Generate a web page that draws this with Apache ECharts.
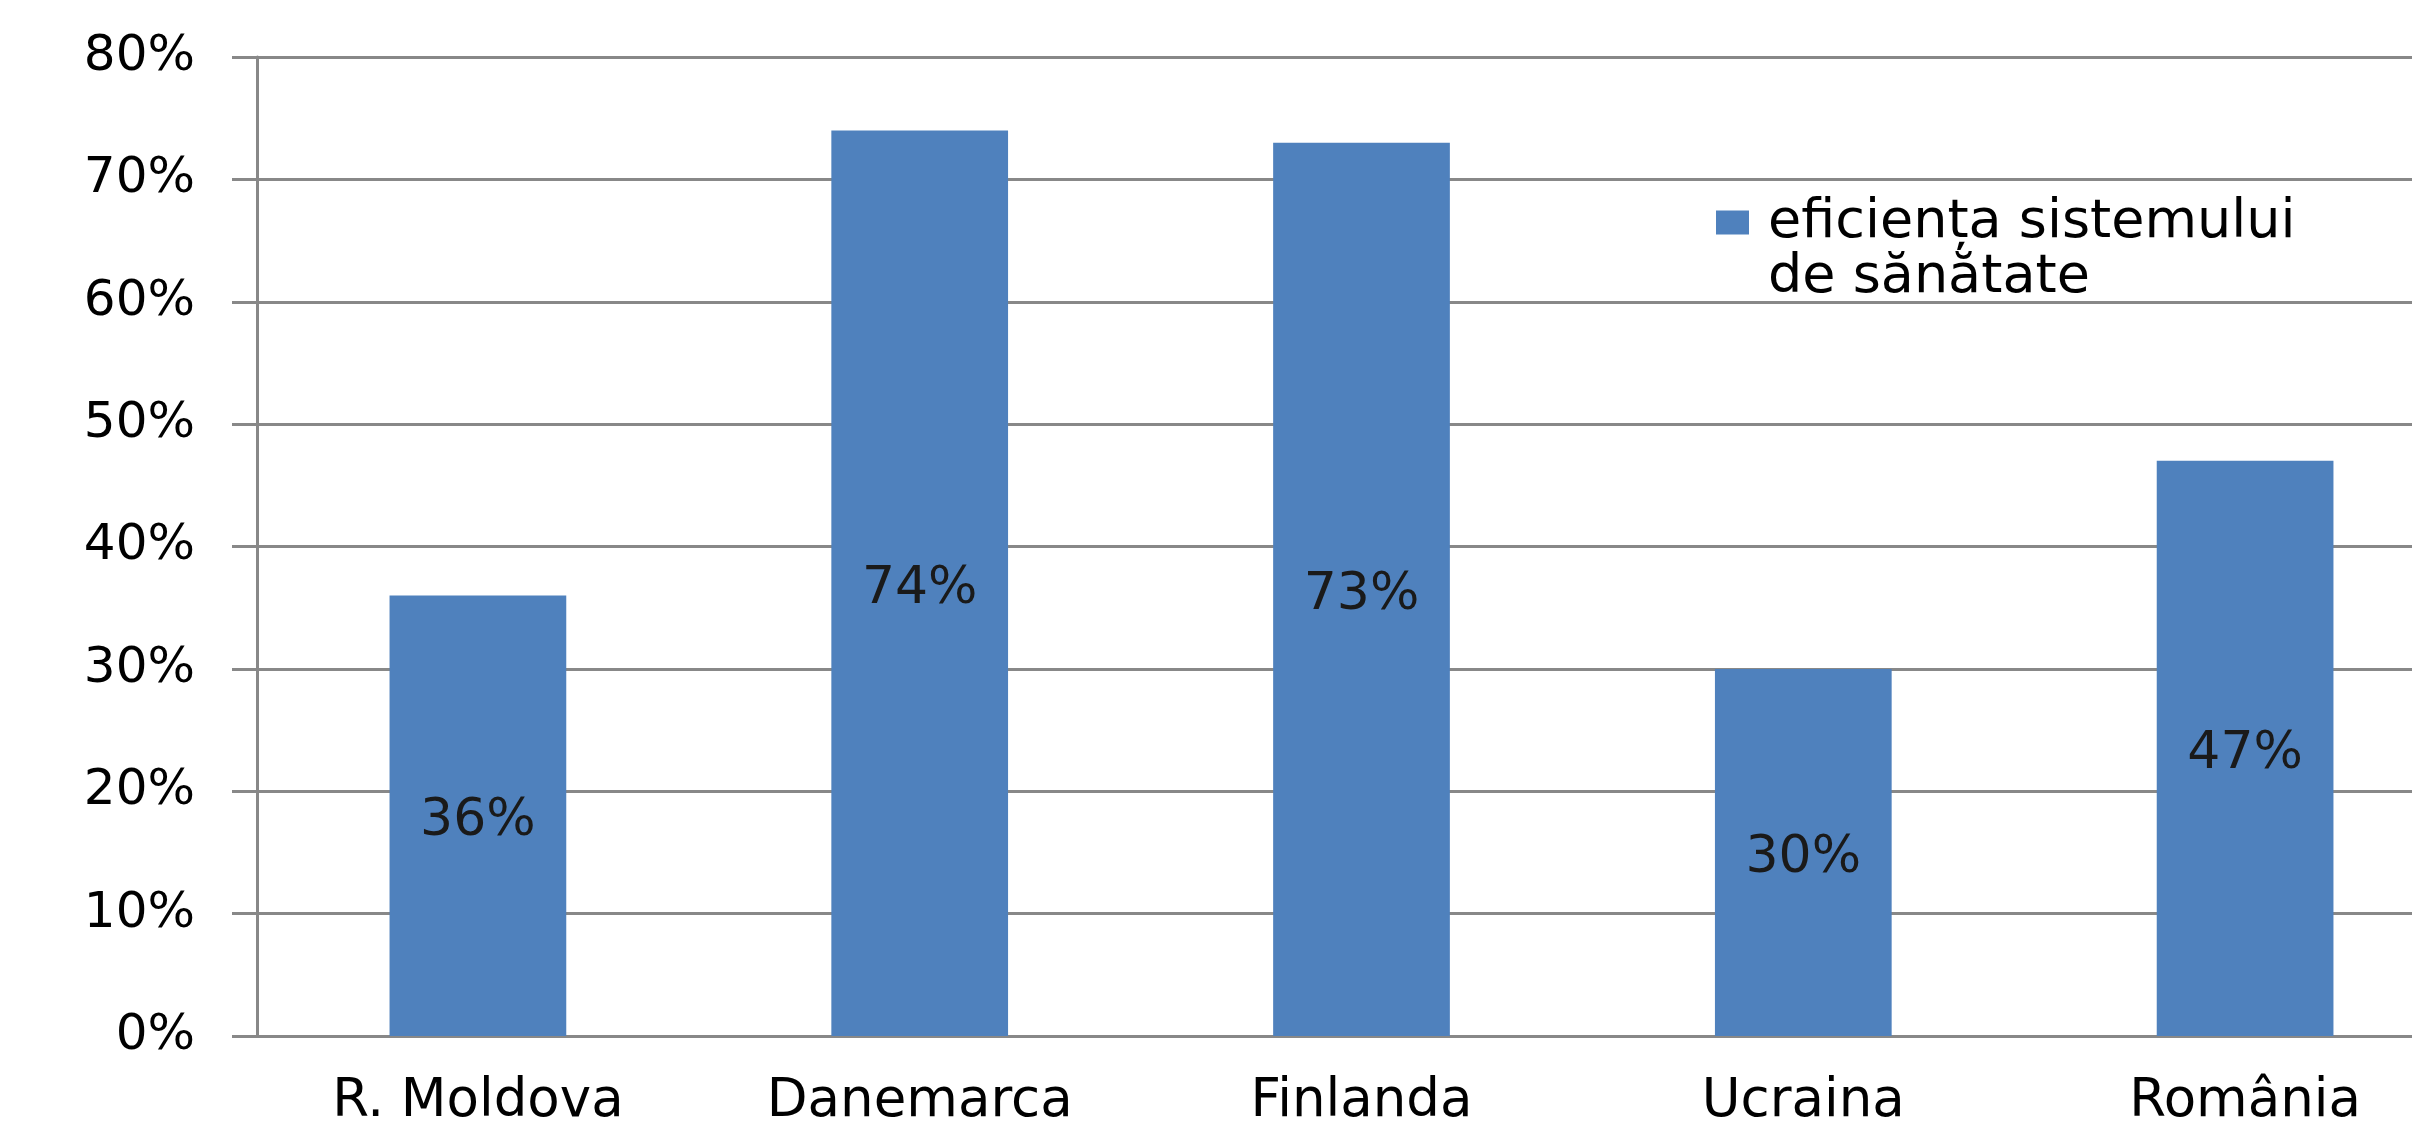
<!DOCTYPE html>
<html>
<head>
<meta charset="utf-8">
<script src="https://cdn.jsdelivr.net/npm/echarts/dist/echarts.min.js"></script>
<style>
  html, body { margin: 0; padding: 0; background: #fff; }
  #main { width: 2412px; height: 1127px; }
</style>
</head>
<body>
<div id="main"></div>
<script>
// data
const countries = ['R. Moldova', 'Danemarca', 'Finlanda', 'Ucraina', 'România']
const efficiency = [36, 74, 73, 30, 47]
const seriesName = 'eficiența sistemului\nde sănătate'
const yTicks = { min: 0, max: 80, step: 10 }

const gridGray = '#888888'
const font = 'DejaVu Sans'

let option = {
  backgroundColor: '#fff',
  animation: false,
  grid: {
    left: 257,
    top: 57,
    bottom: 91,
    // plot runs past the right edge in the reference
    width: 2209,
    outerBoundsMode: 'none'
  },
  legend: {
    left: 1716,
    top: 140,
    padding: 0,
    itemWidth: 33,
    itemHeight: 24,
    icon: 'rect',
    data: [seriesName],
    // blank first line so the square sits on the first text line,
    // small spacer before each line for the gap after the square
    formatter: function (name) {
      let lines = name.split('\n').map(function (l) {
        return '{g|}{t|' + l + '}'
      })
      return '{t| }\n' + lines.join('\n')
    },
    textStyle: {
      fontFamily: font,
      fontSize: 54,
      lineHeight: 55,
      color: '#000',
      rich: {
        g: { width: 14 },
        t: { fontFamily: font, fontSize: 54, lineHeight: 55, color: '#000' }
      }
    }
  },
  xAxis: {
    type: 'category',
    data: countries,
    axisLine: { lineStyle: { color: gridGray, width: 3 } },
    axisTick: { length: 15, lineStyle: { color: gridGray, width: 3 } },
    axisLabel: {
      interval: 0,
      margin: 40,
      fontFamily: font,
      fontSize: 53,
      color: '#000'
    }
  },
  yAxis: {
    type: 'value',
    min: yTicks.min,
    max: yTicks.max,
    interval: yTicks.step,
    axisLine: { show: true, lineStyle: { color: gridGray, width: 3 } },
    axisTick: { show: true, length: 25, lineStyle: { color: gridGray, width: 3 } },
    splitLine: { lineStyle: { color: gridGray, width: 3 } },
    axisLabel: {
      margin: 62,
      formatter: '{value}%',
      fontFamily: font,
      fontSize: 50,
      color: '#000'
    }
  },
  series: [
    {
      name: seriesName,
      type: 'bar',
      data: efficiency,
      barWidth: '40%',
      itemStyle: { color: '#4F81BD' },
      label: {
        show: true,
        position: 'inside',
        offset: [0, 6],
        formatter: '{c}%',
        fontFamily: font,
        fontSize: 52,
        color: '#1a1a1a'
      }
    }
  ]
}

let myChart = echarts.init(document.getElementById('main'))
option && myChart.setOption(option)
</script>
</body>
</html>
